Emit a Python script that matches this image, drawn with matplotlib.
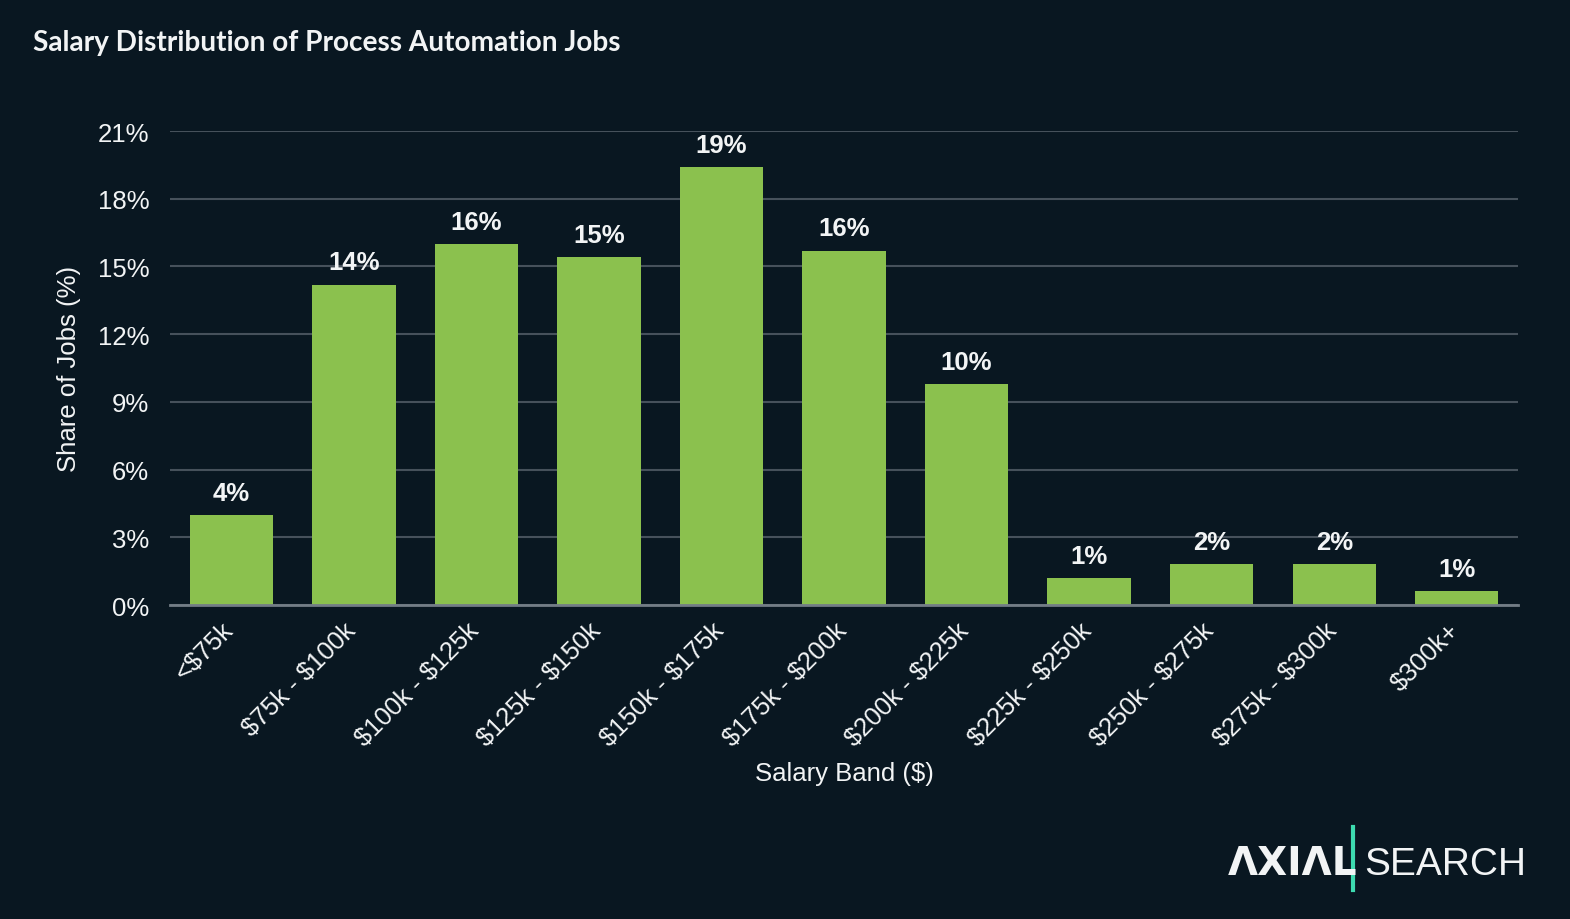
import matplotlib.pyplot as plt
import matplotlib.transforms as mtransforms

bands = ["<$75k", "$75k - $100k", "$100k - $125k", "$125k - $150k", "$150k - $175k",
         "$175k - $200k", "$200k - $225k", "$225k - $250k", "$250k - $275k",
         "$275k - $300k", "$300k+"]
share = [4.0, 14.2, 16.0, 15.4, 19.4, 15.7, 9.8, 1.2, 1.8, 1.8, 0.6]
yticks = [0, 3, 6, 9, 12, 15, 18, 21]

bg = "#091721"
bar_color = "#8BC14E"
txt = "#F2F4F5"

plt.rcParams["font.family"] = ["Liberation Sans", "DejaVu Sans"]
plt.rcParams["text.parse_math"] = False

fig = plt.figure(figsize=(15.7, 9.2), dpi=100, facecolor=bg)
ax = fig.add_axes([0.1083, 0.3413, 0.8586, 0.5152], facecolor=bg)

x = range(len(bands))
ax.bar(x, share, width=0.68, color=bar_color, zorder=3)
for i, v in enumerate(share):
    ax.text(i, v + 0.45, f"{round(v):.0f}%", ha="center", va="bottom",
            fontsize=18.5, fontweight="bold", color=txt, zorder=4)

ax.set_xlim(-0.5, 10.5)
ax.set_ylim(0, 21)
ax.set_yticks(yticks)
ax.set_yticklabels([f"{t}%" for t in yticks])
ax.set_xticks(list(x))
ax.set_xticklabels(bands, rotation=45, ha="right", rotation_mode="anchor")
ax.tick_params(axis="both", length=0, labelsize=18.5, colors=txt)
ax.tick_params(axis="y", pad=15)
ax.tick_params(axis="x", pad=9)
# nudge rotated labels a bit left, like the original
shift = mtransforms.ScaledTranslation(-10 / 100, 0, fig.dpi_scale_trans)
for lab in ax.get_xticklabels():
    lab.set_transform(lab.get_transform() + shift)
ax.grid(axis="y", color="#46515b", linewidth=1.5, zorder=0)
for s in ["top", "right", "left"]:
    ax.spines[s].set_visible(False)
ax.spines["bottom"].set_color("#737d86")
ax.spines["bottom"].set_linewidth(2)
ax.spines["bottom"].set_zorder(5)

ax.set_xlabel("Salary Band ($)", fontsize=18.5, color=txt, labelpad=8)
ax.set_ylabel("Share of Jobs (%)", fontsize=18.5, color=txt, labelpad=12)

fig.text(0.021, 0.953, "Salary Distribution of Process Automation Jobs", fontsize=20.2,
         fontweight="bold", family="Lato", color=txt, va="center")

# logo
fig.text(0.782, 0.049, "ΛXIΛL", fontsize=28, fontweight="bold", color=txt,
         family="DejaVu Sans", va="baseline")
fig.add_artist(plt.Line2D([0.8618, 0.8618], [0.0315, 0.1], color="#3DDBB0", linewidth=3))
fig.text(0.869, 0.049, "SEARCH", fontsize=28, color=txt, family="Liberation Sans",
         va="baseline")

fig.savefig("out.png", dpi=100, facecolor=bg)
